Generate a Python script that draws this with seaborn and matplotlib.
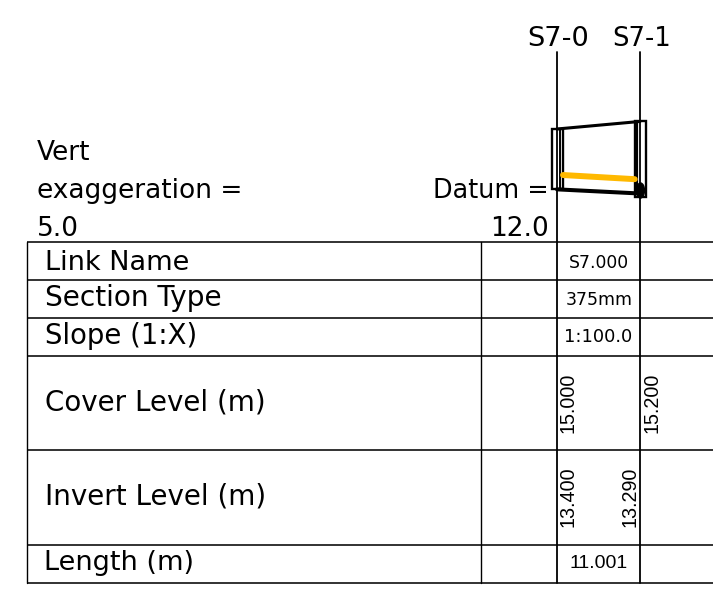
import matplotlib
matplotlib.use('Agg')
import matplotlib.pyplot as plt
from matplotlib.patches import Ellipse, Rectangle
import pandas as pd
import seaborn as sns

# long section values
node_names = ['S7-0', 'S7-1']
chainage = [0.0, 11.001]
cover_levels = [15.000, 15.200]
invert_levels = [13.400, 13.290]
water_chainage = [0.8, 10.3]
water_levels = [13.78, 13.67]
vert_exaggeration = '5.0'
datum = '12.0'

# table contents
row_labels = ['Link Name', 'Section Type', 'Slope (1:X)', 'Cover Level (m)', 'Invert Level (m)', 'Length (m)']
link_name = 'S7.000'
section_type = '375mm'
slope = '1:100.0'
length = '11.001'

W, H = 713, 589
LINE = '#000000'
FONT = 'DejaVu Sans'
ARIAL = 'Liberation Sans'

sns.set_theme(style='white')
plt.rcParams['font.family'] = [FONT]
plt.rcParams['text.color'] = 'black'

fig = plt.figure(figsize=(W / 100, H / 100), dpi=100)

# whole figure in pixels, used for the table grid
ax = fig.add_axes([0, 0, 1, 1])
ax.set_xlim(0, W)
ax.set_ylim(H, 0)
ax.axis('off')

row_edges = [242, 280, 318, 356, 450, 545, 583]
for y in row_edges:
    ax.plot([27, W], [y, y], color='#222222', lw=1.3, solid_capstyle='butt')
for x in [27, 481]:
    ax.plot([x, x], [242, 583], color=LINE, lw=1.0)
ax.plot([557, 557], [52, 583], color=LINE, lw=1.3)
ax.plot([640, 640], [52, 583], color=LINE, lw=1.3)

label_sizes = [19.5, 20.2, 19.8, 20.0, 20.0, 19.5]
label_y = [263, 298, 336, 402, 497, 563]
label_x = [45, 45, 45, 45, 45, 44]
for label, x, y, size in zip(row_labels, label_x, label_y, label_sizes):
    ax.text(x, y, label, fontsize=size, ha='left', va='center')

ax.text(599, 263, link_name, fontsize=12.4, ha='center', va='center')
ax.text(599, 300, section_type, fontsize=12.4, ha='center', va='center')
ax.text(598.5, 337, slope, fontsize=12.8, ha='center', va='center')
ax.text(598.7, 564, length, fontsize=14, family=ARIAL, ha='center', va='center')

# rotated level values
for x, y, val in [(568, 403, cover_levels[0]), (652, 403, cover_levels[1]),
                  (568, 497, invert_levels[0]), (630, 497, invert_levels[1])]:
    ax.text(x, y, f'{val:.3f}', rotation=90, fontsize=14.2, family=ARIAL, ha='center', va='center')

ax.text(558, 39, node_names[0], fontsize=19.6, ha='center', va='center')
ax.text(641.5, 39, node_names[1], fontsize=18.6, ha='center', va='center')

ax.text(37, 153, 'Vert', fontsize=19, ha='left', va='center')
ax.text(37, 191, 'exaggeration =', fontsize=19, ha='left', va='center')
ax.text(37, 229, vert_exaggeration, fontsize=19, ha='left', va='center')
ax.text(549, 191, 'Datum =', fontsize=18.4, ha='right', va='center')
ax.text(549, 229, datum, fontsize=19, ha='right', va='center')

# profile axes: chainage / level, placed so the scale lands on the table columns
px_per_m = (640 - 557) / chainage[1]
px_per_level = px_per_m * float(vert_exaggeration)
x0_px, x1_px = 540, 660
y_top, y_bot = 110, 210
y_level_top = cover_levels[0] + (129 - y_top) / px_per_level
y_level_bot = cover_levels[0] - (y_bot - 129) / px_per_level
prof = fig.add_axes([x0_px / W, 1 - y_bot / H, (x1_px - x0_px) / W, (y_bot - y_top) / H])
prof.patch.set_alpha(0)
prof.axis('off')
prof.set_xlim((x0_px - 557) / px_per_m, (x1_px - 557) / px_per_m)
prof.set_ylim(y_level_bot, y_level_top)

water = pd.DataFrame({'chainage': water_chainage, 'level': water_levels})
section = pd.DataFrame({'chainage': chainage, 'cover': cover_levels, 'invert': invert_levels})
sns.lineplot(data=section, x='chainage', y='cover', ax=prof, color='black', lw=2.2, zorder=3)
sns.lineplot(data=section, x='chainage', y='invert', ax=prof, color='black', lw=2.9, zorder=3)
sns.lineplot(data=water, x='chainage', y='level', ax=prof, color='#ffb900', lw=4.3,
             solid_capstyle='round', zorder=4)

# manhole boxes, offsets in pixels from the node line
boxes = [(-5, 5.5, 0.0), (-5, 6, 0.08)]
for c, top, inv, (dl, dr, dbot) in zip(chainage, cover_levels, invert_levels, boxes):
    prof.add_patch(Rectangle((c + dl / px_per_m, inv - dbot), (dr - dl) / px_per_m, top - inv + dbot,
                             fill=False, edgecolor='black', lw=1.7, zorder=3))
# inner wall lines
prof.plot([chainage[0] + 3 / px_per_m] * 2, [invert_levels[0], cover_levels[0]], color='black', lw=1.4)
prof.plot([chainage[1] - 3.5 / px_per_m] * 2, [invert_levels[1], cover_levels[1]], color='black', lw=1.6)

# outfall blob at the downstream node
prof_blob = Ellipse((640.5, 190.5), 8, 15, color='black', zorder=5)
ax.add_patch(prof_blob)
ax.set_zorder(prof.get_zorder() + 1)
ax.patch.set_alpha(0)

fig.savefig('out.png', dpi=100)
